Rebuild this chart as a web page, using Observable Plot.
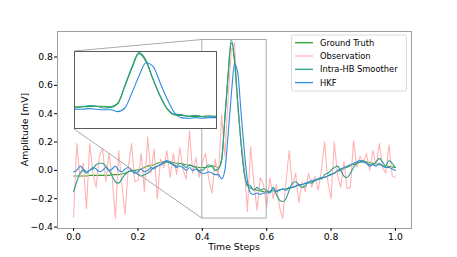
<!DOCTYPE html>
<html><head><meta charset="utf-8">
<script src="https://cdn.jsdelivr.net/npm/d3@7"></script>
<script src="https://cdn.jsdelivr.net/npm/@observablehq/plot@0.6"></script>
<style>
body{margin:0;background:#fff;}
#wrap{position:relative;width:457px;height:257px;}
#insetBox{position:absolute;left:74px;top:51px;width:143px;height:78px;overflow:hidden;
  background:#fff;border:1px solid #5a5a5a;box-sizing:border-box;}
#insetBox svg{display:block;}
</style></head><body><div id="wrap"><div id="insetBox"></div></div>
<script>
// time axis: 101 samples from 0 to 1
const timeSteps = d3.range(101).map(i => i / 100);

const groundTruth = [
-0.04,-0.04,-0.04,-0.04,-0.04,-0.035,-0.035,-0.035,-0.035,-0.035,
-0.035,-0.035,-0.03,-0.03,-0.03,-0.025,-0.02,-0.01,-0.005,0.0,
0.005,0.01,0.02,0.03,0.035,0.04,0.05,0.055,0.06,0.065,
0.06,0.055,0.05,0.05,0.045,0.04,0.035,0.03,0.025,0.02,
0.02,0.02,0.025,0.03,0.03,0.02,0.08,0.36,0.66,0.9,
0.77,0.47,0.2,-0.015,-0.11,-0.125,-0.135,-0.14,-0.145,-0.15,
-0.15,-0.148,-0.145,-0.14,-0.137,-0.133,-0.13,-0.125,-0.12,-0.113,
-0.106,-0.1,-0.093,-0.086,-0.08,-0.072,-0.064,-0.056,-0.048,-0.038,
-0.028,-0.018,-0.008,0.002,0.012,0.022,0.032,0.042,0.05,0.058,
0.062,0.06,0.055,0.05,0.045,0.04,0.035,0.03,0.028,0.025,
0.02];

const observation = [
-0.33,0.19,-0.05,0.05,-0.27,0.19,-0.02,-0.12,0.10,0.155,
-0.08,0.12,-0.05,-0.34,0.14,-0.10,-0.31,0.02,0.19,-0.08,
-0.07,0.12,-0.15,0.235,-0.02,0.15,-0.2,0.08,0.02,0.14,
-0.05,0.12,-0.03,0.16,0.0,-0.06,0.28,-0.02,0.09,-0.05,
0.06,0.12,-0.06,-0.16,0.08,-0.05,0.39,0.1,0.5,0.85,
0.9,0.45,0.22,0.04,-0.29,0.165,-0.08,-0.28,-0.05,-0.1,
-0.26,-0.05,-0.2,-0.1,-0.26,-0.34,-0.08,0.14,-0.12,-0.02,
-0.23,-0.08,-0.15,-0.02,-0.12,-0.04,-0.14,0.0,0.2,-0.08,
-0.2,0.2,-0.03,-0.12,0.06,-0.13,-0.12,0.21,0.02,0.1,
0.05,0.12,0.0,0.14,0.03,0.19,0.02,-0.02,0.18,-0.04,
-0.05];

const intraHBSmoother = [
-0.15,-0.08,-0.02,0.0,-0.02,0.0,0.01,0.04,0.05,0.05,
0.03,0.0,-0.04,-0.08,-0.09,-0.06,-0.03,-0.01,0.0,-0.01,
-0.03,-0.04,-0.03,-0.02,0.0,0.02,0.03,0.04,0.05,0.06,
0.05,0.04,0.03,0.05,0.04,0.02,0.04,0.03,0.02,0.0,
0.0,0.02,0.04,0.03,0.0,0.01,0.07,0.37,0.68,0.92,
0.79,0.48,0.2,-0.01,-0.1,-0.11,-0.14,-0.12,-0.14,-0.13,
-0.14,-0.16,-0.12,-0.17,-0.21,-0.22,-0.2,-0.14,-0.09,-0.08,
-0.1,-0.12,-0.11,-0.08,-0.09,-0.07,-0.06,-0.06,-0.03,-0.02,
0.0,0.02,0.03,0.0,-0.04,-0.05,-0.02,0.02,0.05,0.06,
0.07,0.05,0.04,0.04,0.06,0.085,0.06,0.03,0.07,0.05,
0.02];

const hkf = [
-0.01,0.0,0.03,0.01,-0.01,0.0,0.02,0.01,-0.01,0.0,
0.02,0.0,0.01,0.03,0.0,-0.01,0.01,0.02,0.0,-0.02,
-0.01,0.01,-0.01,0.0,0.02,0.01,0.03,0.04,0.06,0.07,
0.06,0.04,0.02,0.03,0.02,0.0,0.02,0.0,0.01,-0.01,
-0.02,-0.02,-0.01,-0.02,-0.03,-0.03,-0.06,0.0,0.25,0.53,
0.75,0.69,0.42,0.15,-0.07,-0.16,-0.17,-0.16,-0.17,-0.16,
-0.16,-0.15,-0.13,-0.15,-0.14,-0.13,-0.14,-0.12,-0.12,-0.11,
-0.1,-0.1,-0.09,-0.09,-0.07,-0.07,-0.06,-0.05,-0.05,-0.04,
-0.03,-0.02,0.0,0.01,0.02,0.03,0.04,0.05,0.06,0.07,
0.06,0.05,0.03,0.04,0.03,0.05,0.03,0.02,0.02,0.01,
0.0];

const seriesNames = ["Ground Truth", "Observation", "Intra-HB Smoother", "HKF"];
const seriesColors = ["#2ca02c", "#ffb3b3", "#2a9d8f", "#2f8be0"];
const seriesValues = [groundTruth, observation, intraHBSmoother, hkf];
const insetSeries = [0, 2, 3]; // the inset shows the estimates and ground truth only

const xTicks = [0, 0.2, 0.4, 0.6, 0.8, 1.0];
const yTicks = [-0.4, -0.2, 0.0, 0.2, 0.4, 0.6, 0.8];
const zoomX = [0.4, 0.6];
const zoomY = [-0.34, 0.92];

const rows = vals => timeSteps.map((t, i) => ({t, v: vals[i]}));
const lineMark = (k, clip) =>
  Plot.line(rows(seriesValues[k]), {x: "t", y: "v", stroke: seriesColors[k], strokeWidth: 1.1,
    curve: k === 1 ? "linear" : "monotone-x", clip});

const W = 457, H = 257, mL = 57, mR = 46, mT = 31, mB = 29;
const main = Plot.plot({
  width: W, height: H, marginLeft: mL, marginRight: mR, marginTop: mT, marginBottom: mB,
  style: {fontFamily: "DejaVu Sans", fontSize: "9.3px", color: "#000", background: "#fff"},
  x: {domain: [-0.05, 1.05]},
  y: {domain: [-0.41, 0.98]},
  marks: [
    ...seriesValues.map((_, k) => lineMark(k, false)),
    Plot.rect([{x1: zoomX[0], x2: zoomX[1], y1: zoomY[0], y2: zoomY[1]}],
      {x1: "x1", x2: "x2", y1: "y1", y2: "y2", fill: "none", stroke: "#a0a0a0", strokeWidth: 0.9}),
    Plot.frame({stroke: "#a0a0a0", strokeWidth: 1}),
    Plot.axisX({ticks: xTicks, tickFormat: d3.format(".1f"), tickSize: 3, tickPadding: 1.5, label: null}),
    Plot.axisY({ticks: yTicks, tickFormat: d3.format(".1f"), tickSize: 3, tickPadding: 1.5, label: null})
  ]
});

const inset = Plot.plot({
  width: 141, height: 76, margin: 0,
  style: {background: "#fff"},
  x: {domain: zoomX, axis: null},
  y: {domain: zoomY, axis: null},
  marks: insetSeries.map(k => lineMark(k, true))
});

const svg = d3.select(main);
const sx = main.scale("x"), sy = main.scale("y");
const ix = 74, iy = 51, ih = 78;
// connector lines from inset to zoom box
svg.append("line").attr("x1", ix).attr("y1", iy).attr("x2", sx.apply(zoomX[0])).attr("y2", sy.apply(zoomY[1]))
  .attr("stroke", "#a0a0a0").attr("stroke-width", 0.9);
svg.append("line").attr("x1", ix).attr("y1", iy + ih).attr("x2", sx.apply(zoomX[0])).attr("y2", sy.apply(zoomY[0]))
  .attr("stroke", "#a0a0a0").attr("stroke-width", 0.9);

// axis labels
svg.append("text").attr("x", (mL + W - mR) / 2).attr("y", 250).attr("text-anchor", "middle")
  .attr("font-size", "9.3px").attr("fill", "#000").text("Time Steps");
svg.append("text").attr("transform", `translate(25,${(mT + H - mB) / 2}) rotate(-90)`)
  .attr("text-anchor", "middle").attr("dy", "0.35em").attr("font-size", "9.3px").attr("fill", "#000")
  .text("Amplitude [mV]");

// legend
const lg = svg.append("g").attr("text-anchor", "start");
lg.append("rect").attr("x", 291.5).attr("y", 35).attr("width", 115).attr("height", 56).attr("rx", 2)
  .attr("fill", "#fff").attr("fill-opacity", 0.8).attr("stroke", "#d0d0d0").attr("stroke-width", 0.8);
seriesNames.forEach((name, k) => {
  const y = 42.7 + k * 13.3;
  lg.append("line").attr("x1", 295).attr("x2", 313).attr("y1", y).attr("y2", y)
    .attr("stroke", seriesColors[k]).attr("stroke-width", 1.3);
  lg.append("text").attr("x", 320).attr("y", y).attr("dy", "0.35em").attr("font-size", "8.3px")
    .attr("text-anchor", "start").attr("fill", "#000").text(name);
});

const wrap = document.getElementById("wrap");
wrap.insertBefore(main, wrap.firstChild);
document.getElementById("insetBox").appendChild(inset);
</script></body></html>
